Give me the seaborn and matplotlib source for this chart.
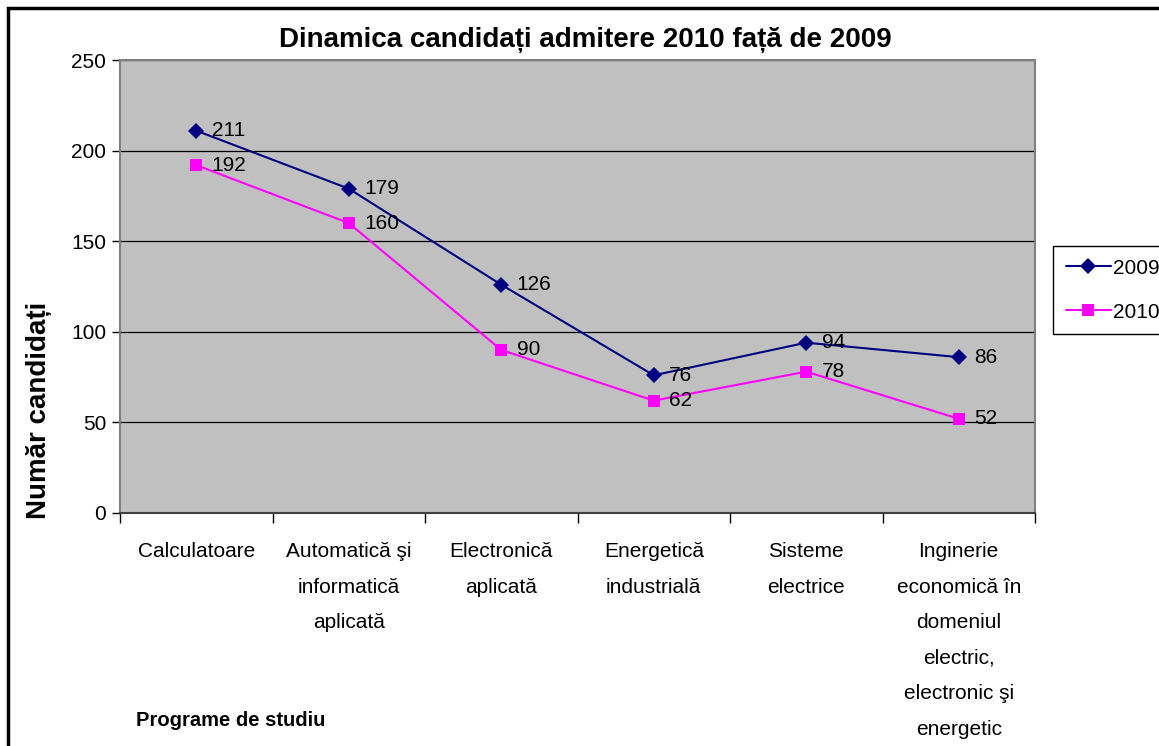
import matplotlib
matplotlib.use("Agg")
import matplotlib.pyplot as plt
import seaborn as sns
import pandas as pd
from matplotlib.patches import Rectangle

# date
programe = ["Calculatoare",
            "Automatică şi\ninformatică\naplicată",
            "Electronică\naplicată",
            "Energetică\nindustrială",
            "Sisteme\nelectrice",
            "Inginerie\neconomică în\ndomeniul\nelectric,\nelectronic şi\nenergetic"]
candidati_2009 = [211, 179, 126, 76, 94, 86]
candidati_2010 = [192, 160, 90, 62, 78, 52]
ani = ["2009", "2010"]

n = len(programe)
df = pd.DataFrame({
    "poz": list(range(n)) * 2,
    "candidati": candidati_2009 + candidati_2010,
    "an": [ani[0]] * n + [ani[1]] * n,
})

sns.set_style("white")
plt.rcParams["font.family"] = ["Liberation Sans", "DejaVu Sans"]
plt.rcParams["text.color"] = "black"

culori = {"2009": "#000080", "2010": "#FF00FF"}

fig = plt.figure(figsize=(11.59, 7.46), dpi=100)
ax = fig.add_axes([120 / 1159, 1 - 513 / 746, 915 / 1159, 453 / 746])
ax.set_facecolor("#C0C0C0")

sns.lineplot(data=df, x="poz", y="candidati", hue="an", style="an",
             markers={"2009": "D", "2010": "s"}, dashes=False,
             palette=culori, linewidth=1.5, markeredgewidth=0,
             legend=False, ax=ax)

# marimi markeri
ax.lines[0].set_markersize(8.5)
ax.lines[1].set_markersize(8)

# etichete de date
for vals in (candidati_2009, candidati_2010):
    for i, v in enumerate(vals):
        ax.annotate(str(v), (i, v), xytext=(11, 0), textcoords="offset points",
                    va="center", ha="left", fontsize=15)

ax.set_xlim(-0.5, n - 0.5)
ax.set_ylim(0, 250)
ax.set_yticks(range(0, 251, 50))
ax.set_xticks(range(n))
ax.set_xticklabels(programe, fontsize=15)
for t in ax.get_xticklabels():
    t.set_linespacing(2.1)
ax.set_xticks([i - 0.5 for i in range(n + 1)], minor=True)
ax.tick_params(axis="x", which="major", length=0, pad=21, labelcolor="black")
ax.tick_params(axis="x", which="minor", bottom=True, length=7, width=1, color="black", direction="out")
ax.tick_params(axis="y", left=True, length=6, width=1, color="black", direction="out",
               labelsize=15, labelcolor="black", pad=4)
ax.set_xlabel("")
ax.set_ylabel("")

ax.yaxis.grid(True, color="black", linewidth=0.9)
ax.set_axisbelow(True)
for s in ax.spines.values():
    s.set_color("#808080")
    s.set_linewidth(1.5)
ax.spines["bottom"].set_color("#404040")

fig.text(585 / 1159, 1 - 40 / 746, "Dinamica candidați admitere 2010 față de 2009",
         ha="center", va="center", fontsize=20, fontweight="bold")
fig.text(39 / 1159, 1 - 410 / 746, "Număr candidați", rotation=90,
         ha="center", va="center", fontsize=20, fontweight="bold")
fig.text(136 / 1159, 1 - 721 / 746, "Programe de studiu",
         ha="left", va="center", fontsize=14.5, fontweight="bold")

leg = fig.legend(ax.lines[:2], ani, loc="upper left",
                 bbox_to_anchor=(1053 / 1159, 1 - 246 / 746), borderaxespad=0,
                 frameon=True, fancybox=False, edgecolor="black", framealpha=1,
                 fontsize=15, handlelength=2.2, handletextpad=0.08,
                 labelspacing=1.2, borderpad=0.6)
leg.get_frame().set_linewidth(1)

# chenarul graficului
fig.add_artist(Rectangle((8 / 1159, -0.1), 1.2, 1 - 8 / 746 + 0.1,
                         transform=fig.transFigure, fill=False,
                         edgecolor="black", linewidth=2.5))

fig.savefig("out.png", dpi=100)
